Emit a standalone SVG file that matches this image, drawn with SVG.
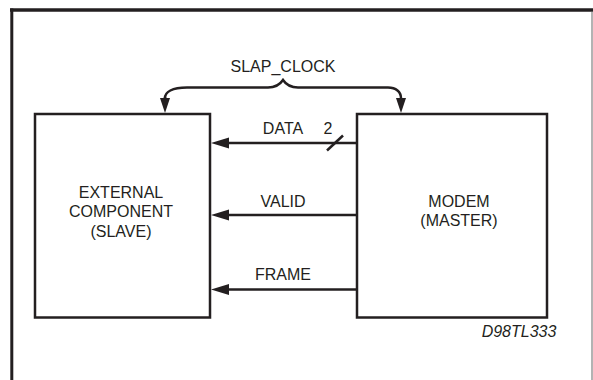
<svg xmlns="http://www.w3.org/2000/svg" width="593" height="380" viewBox="0 0 593 380">
  <defs>
    <style>
      .t { font-family: "Liberation Sans", Arial, sans-serif; font-size: 16px; fill: #231f20; text-anchor: middle; }
      .box { fill: #ffffff; stroke: #231f20; stroke-width: 2.5; }
      .wire { fill: none; stroke: #231f20; stroke-width: 2.5; }
    </style>
    <marker id="ah" markerUnits="userSpaceOnUse" markerWidth="18" markerHeight="12" refX="0" refY="5.5" orient="auto" viewBox="0 0 18 11">
      <path d="M0,0 L18,5.5 L0,11 z" fill="#231f20"/>
    </marker>
    <marker id="ahs" markerUnits="userSpaceOnUse" markerWidth="15" markerHeight="11" refX="0" refY="5" orient="auto" viewBox="0 0 15 10">
      <path d="M0,0 L15,5 L0,10 z" fill="#231f20"/>
    </marker>
  </defs>
  <rect x="0" y="0" width="593" height="380" fill="#ffffff"/>
  <g id="frame">
    <line x1="10" y1="10" x2="593" y2="10" stroke="#231f20" stroke-width="3.5"/>
    <line x1="11.8" y1="8.5" x2="11.8" y2="380" stroke="#231f20" stroke-width="3"/>
    <line x1="592" y1="12" x2="592" y2="380" stroke="#9a9a9a" stroke-width="1.5"/>
  </g>
  <g id="slave">
    <rect class="box" x="35" y="114" width="175" height="203.5"/>
    <text class="t" x="121" y="198">EXTERNAL</text>
    <text class="t" x="121" y="217.3">COMPONENT</text>
    <text class="t" x="121" y="236.6">(SLAVE)</text>
  </g>
  <g id="master">
    <rect class="box" x="357" y="114" width="190" height="203.5"/>
    <text class="t" x="459" y="206.7">MODEM</text>
    <text class="t" x="459" y="226">(MASTER)</text>
  </g>
  <g id="connectors">
    <path class="wire" d="M165,98 C165,92 172,87.5 187,87.5 L268,87.5 Q278,87.5 283,80 Q288,87.5 298,87.5 L388,87.5 C396,87.5 401,92 401,98" marker-end="url(#ahs)"/>
    <path class="wire" d="M165,97 L165,98" marker-end="url(#ahs)"/>
    <path class="wire" d="M357,143 L229,143" marker-end="url(#ah)"/>
    <line class="wire" x1="327" y1="150.5" x2="343" y2="135.5"/>
    <path class="wire" d="M357,215 L229,215" marker-end="url(#ah)"/>
    <path class="wire" d="M357,289.5 L229,289.5" marker-end="url(#ah)"/>
    <text class="t" x="283" y="71.7">SLAP_CLOCK</text>
    <text class="t" x="283" y="134">DATA</text>
    <text class="t" x="328" y="134">2</text>
    <text class="t" x="283" y="206.7">VALID</text>
    <text class="t" x="283" y="280">FRAME</text>
  </g>
  <text class="t" x="519" y="336.7" style="font-style:italic">D98TL333</text>
</svg>
